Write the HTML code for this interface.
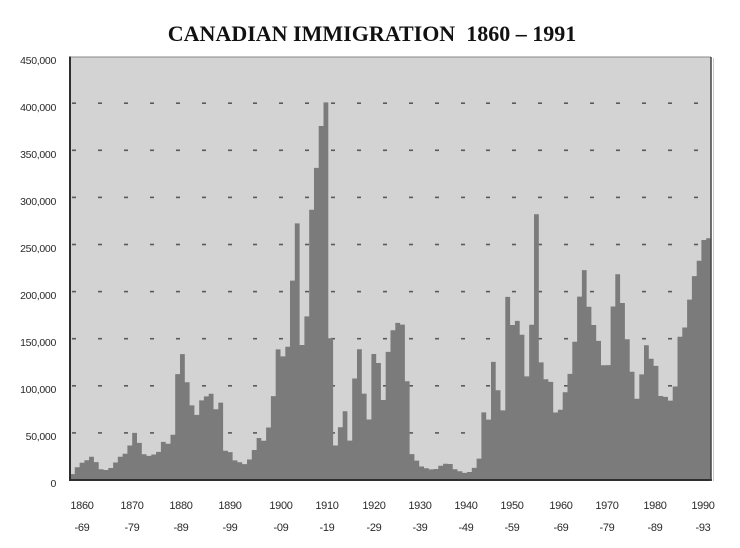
<!DOCTYPE html>
<html>
<head>
<meta charset="utf-8">
<style>
  html,body{margin:0;padding:0;background:#ffffff;}
  svg{display:block;}
  .yl{font-family:"Liberation Sans",sans-serif;font-size:10.5px;fill:#2a2a2a;text-anchor:end;letter-spacing:-0.3px;}
  .xl{font-family:"Liberation Sans",sans-serif;font-size:11px;fill:#2a2a2a;text-anchor:middle;letter-spacing:-0.3px;}
  .tt{font-family:"Liberation Serif",serif;font-size:22px;font-weight:bold;fill:#111;text-anchor:middle;}
</style>
</head>
<body>
<svg width="740" height="548" viewBox="0 0 740 548" xmlns="http://www.w3.org/2000/svg">
  <rect x="0" y="0" width="740" height="548" fill="#ffffff"/>
  <text class="tt" x="372" y="41">CANADIAN IMMIGRATION&#160;&#160;1860 – 1991</text>

  <!-- plot background -->
  <rect x="70" y="57" width="641" height="423" fill="#d3d3d3"/>

  <!-- grid dashes -->
  <g fill="#5a5a5a">
    <g id="row">
      <rect x="72" y="0" width="4" height="1.6"/><rect x="98" y="0" width="4" height="1.6"/>
      <rect x="124" y="0" width="4" height="1.6"/><rect x="150" y="0" width="4" height="1.6"/>
      <rect x="176" y="0" width="4" height="1.6"/><rect x="202" y="0" width="4" height="1.6"/>
      <rect x="228" y="0" width="4" height="1.6"/><rect x="253" y="0" width="4" height="1.6"/>
      <rect x="279" y="0" width="4" height="1.6"/><rect x="305" y="0" width="4" height="1.6"/>
      <rect x="331" y="0" width="4" height="1.6"/><rect x="357" y="0" width="4" height="1.6"/>
      <rect x="383" y="0" width="4" height="1.6"/><rect x="409" y="0" width="4" height="1.6"/>
      <rect x="435" y="0" width="4" height="1.6"/><rect x="461" y="0" width="4" height="1.6"/>
      <rect x="486" y="0" width="4" height="1.6"/><rect x="512" y="0" width="4" height="1.6"/>
      <rect x="538" y="0" width="4" height="1.6"/><rect x="564" y="0" width="4" height="1.6"/>
      <rect x="590" y="0" width="4" height="1.6"/><rect x="616" y="0" width="4" height="1.6"/>
      <rect x="642" y="0" width="4" height="1.6"/><rect x="668" y="0" width="4" height="1.6"/>
      <rect x="694" y="0" width="4" height="1.6"/>
    </g>
  </g>
  <g fill="#5a5a5a">
    <use href="#row" transform="translate(0,102.4)"/>
    <use href="#row" transform="translate(0,149.5)"/>
    <use href="#row" transform="translate(0,196.6)"/>
    <use href="#row" transform="translate(0,243.7)"/>
    <use href="#row" transform="translate(0,290.8)"/>
    <use href="#row" transform="translate(0,337.9)"/>
    <use href="#row" transform="translate(0,385.0)"/>
    <use href="#row" transform="translate(0,432.1)"/>
  </g>
  <!-- hide the template row at y=0 under white (it is at y 0..1.6) -->
  <rect x="60" y="0" width="660" height="3" fill="#ffffff"/>

  <!-- data -->
  <path fill="#7b7b7b" d="M70,480
V474.1 H74.8 V467.2 H79.6 V462.8 H84.4 V460.2 H89.1 V456.7 H93.9 V462.1 H98.7 V469.2 H103.5 V470.0 H108.3 V468.0 H113.1 V462.5 H117.8
V456.7 H122.6 V453.8 H127.4 V445.5 H132.2 V432.9 H137.0 V442.9 H141.8 V454.2 H146.5 V455.9 H151.3 V454.5 H156.1 V451.9 H160.9 V441.9 H165.7
V443.7 H170.5 V434.8 H175.2 V374.1 H180.0 V354.1 H184.8 V382.2 H189.6 V405.4 H194.4 V414.9 H199.2 V400.4 H203.9 V396.4 H208.7 V393.7 H213.5
V409.3 H218.3 V402.6 H223.1 V450.8 H227.9 V452.1 H232.6 V460.4 H237.4 V462.3 H242.2 V464.1 H247.0 V459.5 H251.8 V450.0 H256.6 V438.0 H261.3
V440.7 H266.1 V427.5 H270.9 V396.1 H275.7 V349.4 H280.5 V356.4 H285.3 V346.7 H290.0 V280.6 H294.8 V223.4 H299.6 V345.0 H304.4 V316.4 H309.2
V209.8 H314.0 V167.9 H318.7 V126.0 H323.5 V102.4 H328.3 V338.2 H333.1 V445.5 H337.9 V427.3 H342.7 V411.3 H347.4 V440.6 H352.2 V378.5 H357.0
V349.2 H361.8 V393.6 H366.6 V419.5 H371.4 V354.0 H376.2 V363.0 H380.9 V400.0 H385.7 V351.9 H390.5 V330.3 H395.3 V322.9 H400.1 V324.6 H404.9
V381.3 H409.6 V454.1 H414.4 V460.6 H419.2 V466.5 H424.0 V468.2 H428.8 V469.4 H433.6 V469.0 H438.3 V465.8 H443.1 V463.8 H447.9 V464.0 H452.7
V469.3 H457.5 V471.2 H462.3 V472.9 H467.0 V472.0 H471.8 V467.9 H476.6 V458.6 H481.4 V412.4 H486.2 V419.6 H491.0 V361.9 H495.7 V390.3 H500.5
V410.4 H505.3 V296.9 H510.1 V325.0 H514.9 V320.9 H519.7 V334.7 H524.4 V376.4 H529.2 V324.7 H534.0 V214.2 H538.8 V362.4 H543.6 V379.3 H548.4
V381.9 H553.2 V412.5 H557.9 V409.7 H562.7 V392.3 H567.5 V373.9 H572.3 V341.8 H577.1 V296.6 H581.9 V270.1 H586.6 V306.7 H591.4 V325.0 H596.2
V340.9 H601.0 V365.2 H605.8 V365.1 H610.6 V306.5 H615.3 V274.2 H620.1 V303.0 H624.9 V339.2 H629.7 V371.8 H634.5 V398.7 H639.3 V374.4 H644.0
V345.2 H648.8 V358.8 H653.6 V365.9 H658.4 V396.0 H663.2 V396.9 H668.0 V400.6 H672.7 V386.5 H677.5 V336.7 H682.3 V327.5 H687.1 V299.6 H691.9
V276.1 H696.7 V260.8 H701.4 V240.0 H706.2 V238.2 H711.0
V480 Z"/>

  <!-- frame -->
  <line x1="70" y1="57" x2="711" y2="57" stroke="#8a8a8a" stroke-width="1"/>
  <line x1="70" y1="56.5" x2="70" y2="481" stroke="#2e2e2e" stroke-width="2"/>
  <line x1="69" y1="480" x2="712" y2="480" stroke="#2e2e2e" stroke-width="2"/>
  <line x1="711" y1="57" x2="711" y2="481" stroke="#444" stroke-width="1.5"/>
  <line x1="713.5" y1="58" x2="713.5" y2="481" stroke="#c8c8c8" stroke-width="1"/>

  <!-- y labels -->
  <text class="yl" x="56" y="486.8">0</text>
  <text class="yl" x="56" y="439.8">50,000</text>
  <text class="yl" x="56" y="392.8">100,000</text>
  <text class="yl" x="56" y="345.8">150,000</text>
  <text class="yl" x="56" y="298.8">200,000</text>
  <text class="yl" x="56" y="251.8">250,000</text>
  <text class="yl" x="56" y="204.8">300,000</text>
  <text class="yl" x="56" y="157.8">350,000</text>
  <text class="yl" x="56" y="110.8">400,000</text>
  <text class="yl" x="56" y="63.8">450,000</text>

  <!-- x labels -->
  <text class="xl" x="82" y="509">1860</text>
  <text class="xl" x="132" y="509">1870</text>
  <text class="xl" x="181" y="509">1880</text>
  <text class="xl" x="230" y="509">1890</text>
  <text class="xl" x="281" y="509">1900</text>
  <text class="xl" x="327" y="509">1910</text>
  <text class="xl" x="374" y="509">1920</text>
  <text class="xl" x="420" y="509">1930</text>
  <text class="xl" x="466" y="509">1940</text>
  <text class="xl" x="512" y="509">1950</text>
  <text class="xl" x="561" y="509">1960</text>
  <text class="xl" x="607" y="509">1970</text>
  <text class="xl" x="655" y="509">1980</text>
  <text class="xl" x="703" y="509">1990</text>

  <text class="xl" x="82" y="531">-69</text>
  <text class="xl" x="132" y="531">-79</text>
  <text class="xl" x="181" y="531">-89</text>
  <text class="xl" x="230" y="531">-99</text>
  <text class="xl" x="281" y="531">-09</text>
  <text class="xl" x="327" y="531">-19</text>
  <text class="xl" x="374" y="531">-29</text>
  <text class="xl" x="420" y="531">-39</text>
  <text class="xl" x="466" y="531">-49</text>
  <text class="xl" x="512" y="531">-59</text>
  <text class="xl" x="561" y="531">-69</text>
  <text class="xl" x="607" y="531">-79</text>
  <text class="xl" x="655" y="531">-89</text>
  <text class="xl" x="703" y="531">-93</text>
</svg>
</body>
</html>
